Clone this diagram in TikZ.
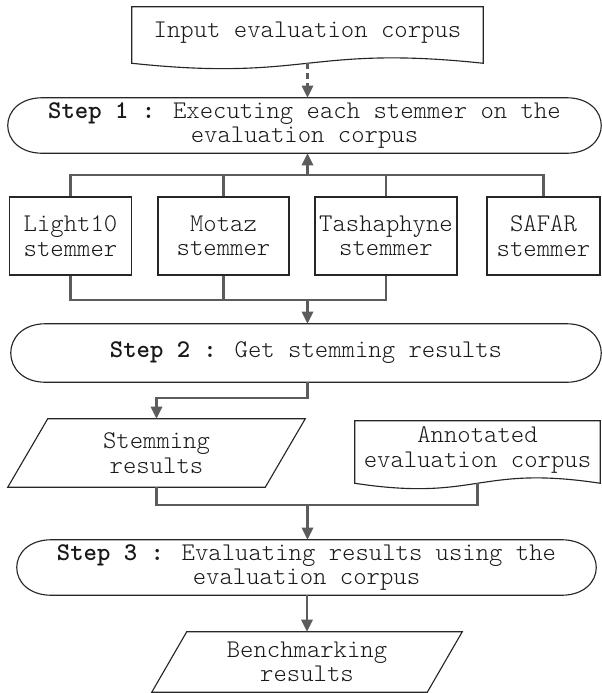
\documentclass[tikz,border=0pt]{standalone}
\usetikzlibrary{arrows.meta,calc}
\tikzset{
  every node/.style={font=\ttfamily\fontseries{l}\selectfont\fontsize{19.1}{18.4}\selectfont, text=black!90, inner sep=0pt, align=center},
  outline/.style={draw=black!85, line width=0.85pt},
  conn/.style={draw=black!64, line width=1.7pt},
  arr/.style={conn, -{Triangle[length=9pt,width=8.5pt]}},
  darr/.style={arr, dash pattern=on 4.5pt off 3pt},
  sz/.style 2 args={minimum width=#1*0.75pt, minimum height=#2*0.75pt},
  box/.style={outline},
}
\newcommand\termshape[1]{\draw[outline] ([xshift=26.25pt]#1.north west) -- ([xshift=-26.25pt]#1.north east)
  .. controls ([xshift=8.75pt]#1.north east) and ([xshift=8.75pt]#1.south east) .. ([xshift=-26.25pt]#1.south east)
  -- ([xshift=26.25pt]#1.south west)
  .. controls ([xshift=-8.75pt]#1.south west) and ([xshift=-8.75pt]#1.north west) .. cycle;}
\newcommand\docshape[1]{\draw[outline] (#1.north west) -- (#1.north east) -- ([yshift=-3pt]#1.south east)
  .. controls ($([yshift=-3pt]#1.south)+(0,14pt)$) and ($([yshift=-3pt]#1.south)+(0,-14pt)$) .. ([yshift=-3pt]#1.south west) -- cycle;}
\newcommand\parashape[2]{\draw[outline] ([xshift=#2]#1.north west) -- (#1.north east) -- ([xshift=-#2]#1.south east) -- (#1.south west) -- cycle;}
\begin{document}
\begin{tikzpicture}[x=0.75pt,y=-0.75pt]
\useasboundingbox (0,0) rectangle (601,693);

% nodes
\node[sz={351}{52}] (in) at (307.5,33) {Input evaluation corpus};
\node[sz={593}{55}] (s1) at (304.5,125.5) {\textbf{Step 1 :} Executing each stemmer on the\\evaluation corpus};
\node[box, sz={122}{78}] (b1) at (70.5,236) {Light10\\stemmer};
\node[box, sz={131}{78}] (b2) at (223.5,236) {Motaz\\stemmer};
\node[box, sz={142}{78}] (b3) at (386,236) {Tashaphyne\\stemmer};
\node[box, sz={113}{78}] (b4) at (543.5,236) {SAFAR\\stemmer};
\node[sz={590}{58}] (s2) at (306,353) {\textbf{Step 2 :} Get stemming results};
\node[sz={297}{68}] (sr) at (156.5,453) {Stemming\\results};
\node[sz={245}{58}] (an) at (477.5,450) {Annotated\\evaluation corpus};
\node[sz={579}{55}] (s3) at (306.5,567.5) {\textbf{Step 3 :} Evaluating results using the\\evaluation corpus};
\node[sz={310}{60}] (bm) at (307,662) {Benchmarking\\results};

% outlines
\docshape{in}
\termshape{s1}
\termshape{s2}
\parashape{sr}{30pt}
\docshape{an}
\termshape{s3}
\parashape{bm}{26.25pt}

% bus coordinates
\coordinate (tb) at (307.5,175);
\coordinate (bb) at (307.5,300);
\coordinate (jb) at (307.5,505);

% connectors
\draw[darr] ([yshift=-3pt]in.south) -- (in.south |- s1.north);
\draw[conn] (b1.north) |- (tb) -| (b4.north);
\draw[conn] (b2.north) -- (b2.north |- tb);
\draw[conn] (b3.north) -- (b3.north |- tb);
\draw[arr] (tb) -- (tb |- s1.south);
\draw[conn] (b1.south) |- (bb) -| (b3.south);
\draw[conn] (b2.south) -- (b2.south |- bb);
\draw[arr] (bb) -- (bb |- s2.north);
\draw[arr] (s2.south -| bb) -- ++(0,16) -| (sr.north);
\draw[conn] (sr.south) |- (jb) -| ([yshift=-3pt]an.south);
\draw[arr] (jb) -- (jb |- s3.north);
\draw[arr] (s3.south -| bm.north) -- (bm.north);
\end{tikzpicture}
\end{document}
